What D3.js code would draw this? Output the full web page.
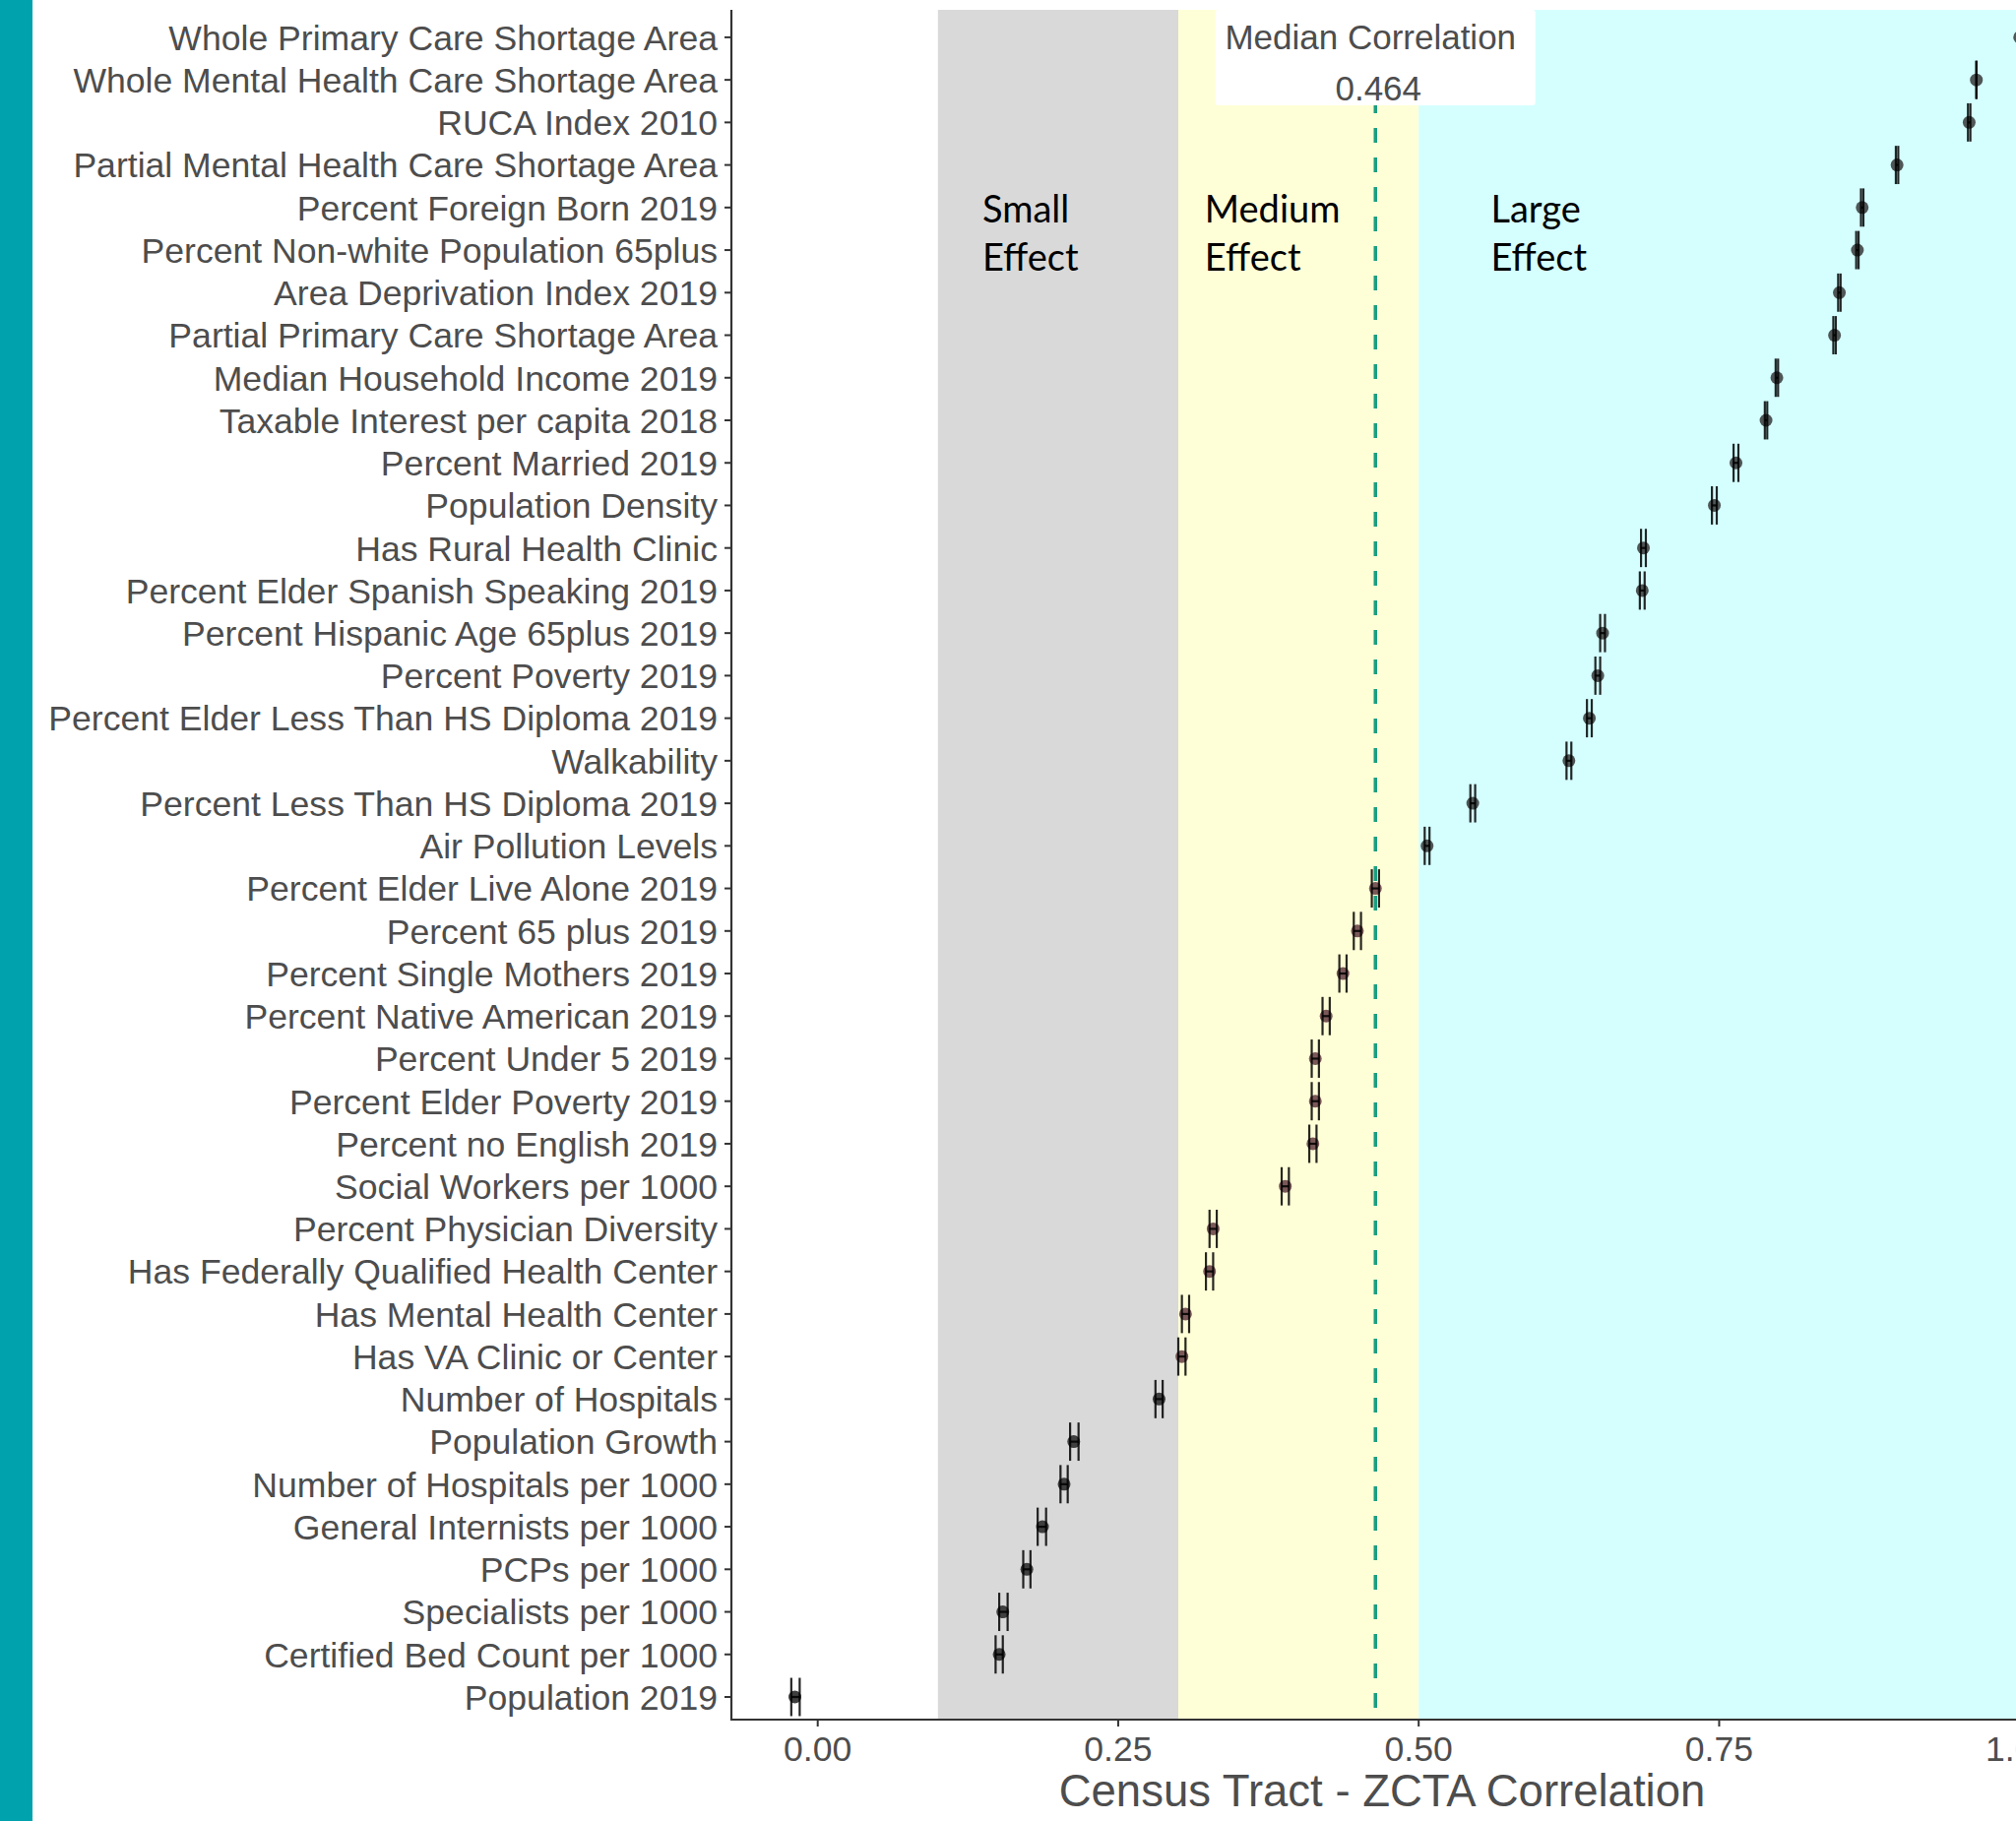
<html><head>
<title>Census Tract - ZCTA Correlation</title>
<script src="https://d3js.org/d3.v7.min.js"></script>
<style>
  body { margin: 0; background: #ffffff; }
  .lab { font-family: "Liberation Sans", Arial, sans-serif; fill: #4d4d4d; }
  .effect { font-family: Lato, "Open Sans", sans-serif; fill: #000000; font-size: 38px; }
</style>
</head>
<body>
<svg id="chart" width="2048" height="1850"></svg>

<script>
// variables, top to bottom as in the chart
const variables = [
  "Whole Primary Care Shortage Area",
  "Whole Mental Health Care Shortage Area",
  "RUCA Index 2010",
  "Partial Mental Health Care Shortage Area",
  "Percent Foreign Born 2019",
  "Percent Non-white Population 65plus",
  "Area Deprivation Index 2019",
  "Partial Primary Care Shortage Area",
  "Median Household Income 2019",
  "Taxable Interest per capita 2018",
  "Percent Married 2019",
  "Population Density",
  "Has Rural Health Clinic",
  "Percent Elder Spanish Speaking 2019",
  "Percent Hispanic Age 65plus 2019",
  "Percent Poverty 2019",
  "Percent Elder Less Than HS Diploma 2019",
  "Walkability",
  "Percent Less Than HS Diploma 2019",
  "Air Pollution Levels",
  "Percent Elder Live Alone 2019",
  "Percent 65 plus 2019",
  "Percent Single Mothers 2019",
  "Percent Native American 2019",
  "Percent Under 5 2019",
  "Percent Elder Poverty 2019",
  "Percent no English 2019",
  "Social Workers per 1000",
  "Percent Physician Diversity",
  "Has Federally Qualified Health Center",
  "Has Mental Health Center",
  "Has VA Clinic or Center",
  "Number of Hospitals",
  "Population Growth",
  "Number of Hospitals per 1000",
  "General Internists per 1000",
  "PCPs per 1000",
  "Specialists per 1000",
  "Certified Bed Count per 1000",
  "Population 2019"
];

const correlation = [1.000, 0.964, 0.958, 0.898, 0.869, 0.865, 0.850, 0.846, 0.798, 0.789,
                     0.764, 0.746, 0.687, 0.686, 0.653, 0.649, 0.642, 0.625, 0.545, 0.507,
                     0.464, 0.449, 0.437, 0.423, 0.414, 0.414, 0.412, 0.389, 0.329, 0.326,
                     0.306, 0.303, 0.284, 0.213, 0.205, 0.187, 0.174, 0.154, 0.151, -0.019];

const ciLower = [1.000, 0.964, 0.957, 0.897, 0.868, 0.864, 0.849, 0.845, 0.797, 0.788,
                 0.762, 0.744, 0.685, 0.684, 0.651, 0.647, 0.640, 0.623, 0.543, 0.505,
                 0.461, 0.446, 0.434, 0.420, 0.411, 0.411, 0.409, 0.386, 0.326, 0.323,
                 0.303, 0.300, 0.281, 0.210, 0.202, 0.183, 0.171, 0.151, 0.148, -0.022];

const ciUpper = [1.000, 0.964, 0.959, 0.899, 0.870, 0.866, 0.851, 0.847, 0.799, 0.790,
                 0.766, 0.748, 0.689, 0.688, 0.655, 0.651, 0.644, 0.627, 0.547, 0.509,
                 0.467, 0.452, 0.440, 0.426, 0.417, 0.417, 0.415, 0.392, 0.332, 0.329,
                 0.309, 0.306, 0.287, 0.217, 0.208, 0.190, 0.177, 0.158, 0.154, -0.015];

const xTicks = [0, 0.25, 0.5, 0.75, 1.0];
const effectBands = [
  {name: "Small", from: 0.1, to: 0.3, color: "#d9d9d9"},
  {name: "Medium", from: 0.3, to: 0.5, color: "#ffffd7"},
  {name: "Large", from: 0.5, to: 1.02, color: "#d5ffff"}
];
const medianCorr = 0.464;

const rows = variables.map((v, i) => ({name: v, r: correlation[i], lo: ciLower[i], hi: ciUpper[i]}));

const svg = d3.select("#chart");

// teal strip on the left edge
svg.append("rect").attr("x", 0).attr("y", 0).attr("width", 33).attr("height", 1850).attr("fill", "#00a2ae");

const panelLeft = 743, panelTop = 10, panelBottom = 1747, panelRight = 2070;

const x = d3.scaleLinear().domain([0, 1]).range([830.7, 2051.7]);
const y = d3.scalePoint().domain(variables).range([37.9, 1724]);
const step = y.step();

const plot = svg.append("g");

// effect-size bands
plot.selectAll("rect.band").data(effectBands)
  .join("rect")
  .attr("class", "band")
  .attr("x", d => x(d.from))
  .attr("width", d => x(d.to) - x(d.from))
  .attr("y", panelTop)
  .attr("height", panelBottom - panelTop)
  .attr("fill", d => d.color);

// points
function dotColor(v) {
  if (v >= 0.5) return "#4f5656";
  if (v >= 0.3) return "#7b5858";
  return "#3f3f3f";
}
plot.selectAll("circle.pt").data(rows)
  .join("circle")
  .attr("class", "pt")
  .attr("cx", d => x(d.r))
  .attr("cy", d => y(d.name))
  .attr("r", 6.5)
  .attr("fill", d => dotColor(d.r));

// median line
plot.append("line")
  .attr("x1", x(medianCorr)).attr("x2", x(medianCorr))
  .attr("y1", panelTop).attr("y2", panelBottom)
  .attr("stroke", "#1b9e80")
  .attr("stroke-width", 3.5)
  .attr("stroke-dasharray", "15,15");

// confidence intervals (horizontal error bars)
const eb = plot.selectAll("g.eb").data(rows).join("g").attr("class", "eb")
  .attr("stroke", "#000000").attr("stroke-opacity", 0.85).attr("stroke-width", 2.2);
eb.append("line")
  .attr("x1", d => x(d.lo)).attr("x2", d => x(d.hi))
  .attr("y1", d => y(d.name)).attr("y2", d => y(d.name));
eb.append("line")
  .attr("x1", d => x(d.lo)).attr("x2", d => x(d.lo))
  .attr("y1", d => y(d.name) - step * 0.45).attr("y2", d => y(d.name) + step * 0.45);
eb.append("line")
  .attr("x1", d => x(d.hi)).attr("x2", d => x(d.hi))
  .attr("y1", d => y(d.name) - step * 0.45).attr("y2", d => y(d.name) + step * 0.45);

// median label
const boxW = 325;
plot.append("rect")
  .attr("x", x(medianCorr) - boxW / 2).attr("y", panelTop)
  .attr("width", boxW).attr("height", 97)
  .attr("rx", 3)
  .attr("fill", "#ffffff");
plot.append("text").attr("class", "lab")
  .attr("x", x(medianCorr) - 5).attr("y", 50)
  .attr("text-anchor", "middle").attr("font-size", 35)
  .text("Median Correlation");
plot.append("text").attr("class", "lab")
  .attr("x", x(medianCorr) + 3).attr("y", 102)
  .attr("text-anchor", "middle").attr("font-size", 35)
  .text(d3.format(".3f")(medianCorr));

// effect labels
const effectX = [0.137, 0.322, 0.560];
effectBands.forEach((b, i) => {
  const t = plot.append("text").attr("class", "effect").attr("x", x(effectX[i])).attr("y", 226);
  t.append("tspan").attr("x", x(effectX[i])).attr("y", 226).text(b.name);
  t.append("tspan").attr("x", x(effectX[i])).attr("y", 275).text("Effect");
});

// axes
const axisColor = "#333333";
svg.append("line").attr("x1", panelLeft).attr("x2", panelLeft)
  .attr("y1", panelTop).attr("y2", panelBottom + 1)
  .attr("stroke", axisColor).attr("stroke-width", 2.2);
svg.append("line").attr("x1", panelLeft - 1).attr("x2", panelRight)
  .attr("y1", panelBottom).attr("y2", panelBottom)
  .attr("stroke", axisColor).attr("stroke-width", 2.2);

const yAxis = svg.append("g");
yAxis.selectAll("line").data(variables).join("line")
  .attr("x1", panelLeft - 7).attr("x2", panelLeft)
  .attr("y1", d => y(d)).attr("y2", d => y(d))
  .attr("stroke", axisColor).attr("stroke-width", 2);
yAxis.selectAll("text").data(variables).join("text")
  .attr("class", "lab")
  .attr("x", panelLeft - 14)
  .attr("y", d => y(d))
  .attr("dy", "0.36em")
  .attr("text-anchor", "end")
  .attr("font-size", 35.6)
  .text(d => d);

const xAxis = svg.append("g");
xAxis.selectAll("line").data(xTicks).join("line")
  .attr("x1", d => x(d)).attr("x2", d => x(d))
  .attr("y1", panelBottom).attr("y2", panelBottom + 7)
  .attr("stroke", axisColor).attr("stroke-width", 2);
xAxis.selectAll("text").data(xTicks).join("text")
  .attr("class", "lab")
  .attr("x", d => x(d))
  .attr("y", 1789)
  .attr("text-anchor", "middle")
  .attr("font-size", 35.6)
  .text(d => d3.format(".2f")(d));

svg.append("text").attr("class", "lab")
  .attr("x", 1404).attr("y", 1835)
  .attr("text-anchor", "middle")
  .attr("font-size", 45.5)
  .text("Census Tract - ZCTA Correlation");
</script>
</body>
</html>
